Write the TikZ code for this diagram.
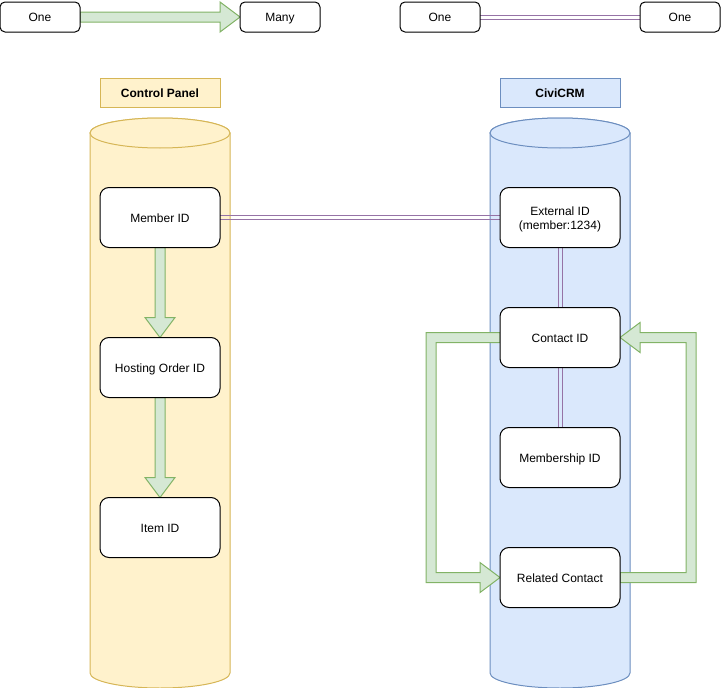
\documentclass[tikz,border=0pt]{standalone}
\usepackage{fontspec}
\setmainfont{Liberation Sans}
\usetikzlibrary{calc}
\definecolor{gfill}{HTML}{D5E8D4}
\definecolor{gline}{HTML}{82B366}
\definecolor{yfill}{HTML}{FFF2CC}
\definecolor{yline}{HTML}{D6B656}
\definecolor{bfill}{HTML}{DAE8FC}
\definecolor{bline}{HTML}{6C8EBF}
\definecolor{plink}{HTML}{9673A6}
\pgfdeclarelayer{bg}
\pgfdeclarelayer{mid}
\pgfsetlayers{bg,mid,main}
\begin{document}
\begin{tikzpicture}[x=1pt,y=-1pt,
  font=\fontsize{12}{14}\selectfont,
  box/.style={draw=black,fill=white,line width=1pt,rounded corners=9pt,minimum width=120pt,minimum height=60pt,inner sep=0pt,outer sep=0pt,align=center,text height=10pt,text depth=1pt},
  legbox/.style={draw=black,fill=white,line width=1pt,rounded corners=5pt,minimum width=80pt,minimum height=30pt,inner sep=0pt,outer sep=0pt,text height=10pt,text depth=1pt},
  title/.style={line width=1pt,minimum width=120pt,minimum height=29pt,inner sep=0pt,outer sep=0pt,font=\fontsize{12}{14}\selectfont\bfseries,text height=10pt,text depth=1pt},
  flex/.style={draw=gline,fill=gfill,line width=1pt,line join=miter},
  link/.style={draw=plink,line width=1pt},
  cyl/.style={line width=1pt}
]
\useasboundingbox (0,0) rectangle (721,688);

% cylinders
\begin{pgfonlayer}{bg}
\foreach \cx/\fc/\lc in {160/yfill/yline,560/bfill/bline}{
  \path[cyl,fill=\fc,draw=\lc] (\cx-70,133) -- (\cx-70,673)
     arc[start angle=180,end angle=360,x radius=70pt,y radius=15pt]
     -- (\cx+70,133)
     arc[start angle=0,end angle=180,x radius=70pt,y radius=15pt] -- cycle;
  \draw[cyl,draw=\lc,fill=\fc] (\cx,133) ellipse[x radius=70pt,y radius=15pt];
}
\end{pgfonlayer}

% titles
\node[title,fill=yfill,draw=yline] (cp) at (160,92.5) {Control Panel};
\node[title,fill=bfill,draw=bline] (cc) at (560,92.5) {CiviCRM};

% legend
\node[legbox] (one1) at (40,17) {One};
\node[legbox] (many) at (280,17) {Many};
\node[legbox] (one2) at (440,17) {One};
\node[legbox] (one3) at (680,17) {One};

% boxes
\node[box] (m) at (160,217.5) {Member ID};
\node[box] (h) at (160,367.5) {Hosting Order ID};
\node[box] (i) at (160,527.5) {Item ID};
\node[box,text height=,text depth=] (e) at (560,217.5) {\rule{0pt}{12pt}External ID\\(member:1234)};
\node[box] (c) at (560,337.5) {Contact ID};
\node[box] (ms) at (560,457.5) {Membership ID};
\node[box] (r) at (560,577.5) {Related Contact};

% flex arrows
\begin{pgfonlayer}{mid}
\draw[flex] ($(one1.east)+(0,-5)$) -- ($(many.west)+(-20,-5)$) -- ($(many.west)+(-20,-15)$) -- (many.west)
  -- ($(many.west)+(-20,15)$) -- ($(many.west)+(-20,5)$) -- ($(one1.east)+(0,5)$) -- cycle;
\draw[flex] ($(m.south)+(-5,0)$) -- ($(h.north)+(-5,-20)$) -- ($(h.north)+(-15,-20)$) -- (h.north)
  -- ($(h.north)+(15,-20)$) -- ($(h.north)+(5,-20)$) -- ($(m.south)+(5,0)$) -- cycle;
\draw[flex] ($(h.south)+(-5,0)$) -- ($(i.north)+(-5,-20)$) -- ($(i.north)+(-15,-20)$) -- (i.north)
  -- ($(i.north)+(15,-20)$) -- ($(i.north)+(5,-20)$) -- ($(h.south)+(5,0)$) -- cycle;
\draw[flex] ($(c.west)+(0,-5)$) -- ($(c.west)+(-74,-5)$) -- ($(r.west)+(-74,5)$) -- ($(r.west)+(-20,5)$)
  -- ($(r.west)+(-20,15)$) -- (r.west) -- ($(r.west)+(-20,-15)$) -- ($(r.west)+(-20,-5)$)
  -- ($(r.west)+(-64,-5)$) -- ($(c.west)+(-64,5)$) -- ($(c.west)+(0,5)$) -- cycle;
\draw[flex] ($(r.east)+(0,5)$) -- ($(r.east)+(76,5)$) -- ($(c.east)+(76,-5)$) -- ($(c.east)+(20,-5)$)
  -- ($(c.east)+(20,-15)$) -- (c.east) -- ($(c.east)+(20,15)$) -- ($(c.east)+(20,5)$)
  -- ($(c.east)+(66,5)$) -- ($(r.east)+(66,-5)$) -- ($(r.east)+(0,-5)$) -- cycle;

% links
\draw[link] ([yshift=2pt]one2.east) -- ([yshift=2pt]one3.west);
\draw[link] ([yshift=-2pt]one2.east) -- ([yshift=-2pt]one3.west);
\draw[link] ([yshift=2pt]m.east) -- ([yshift=2pt]e.west);
\draw[link] ([yshift=-2pt]m.east) -- ([yshift=-2pt]e.west);
\draw[link] ([xshift=-2pt]e.south) -- ([xshift=-2pt]c.north);
\draw[link] ([xshift=2pt]e.south) -- ([xshift=2pt]c.north);
\draw[link] ([xshift=-2pt]c.south) -- ([xshift=-2pt]ms.north);
\draw[link] ([xshift=2pt]c.south) -- ([xshift=2pt]ms.north);
\end{pgfonlayer}
\end{tikzpicture}
\end{document}
